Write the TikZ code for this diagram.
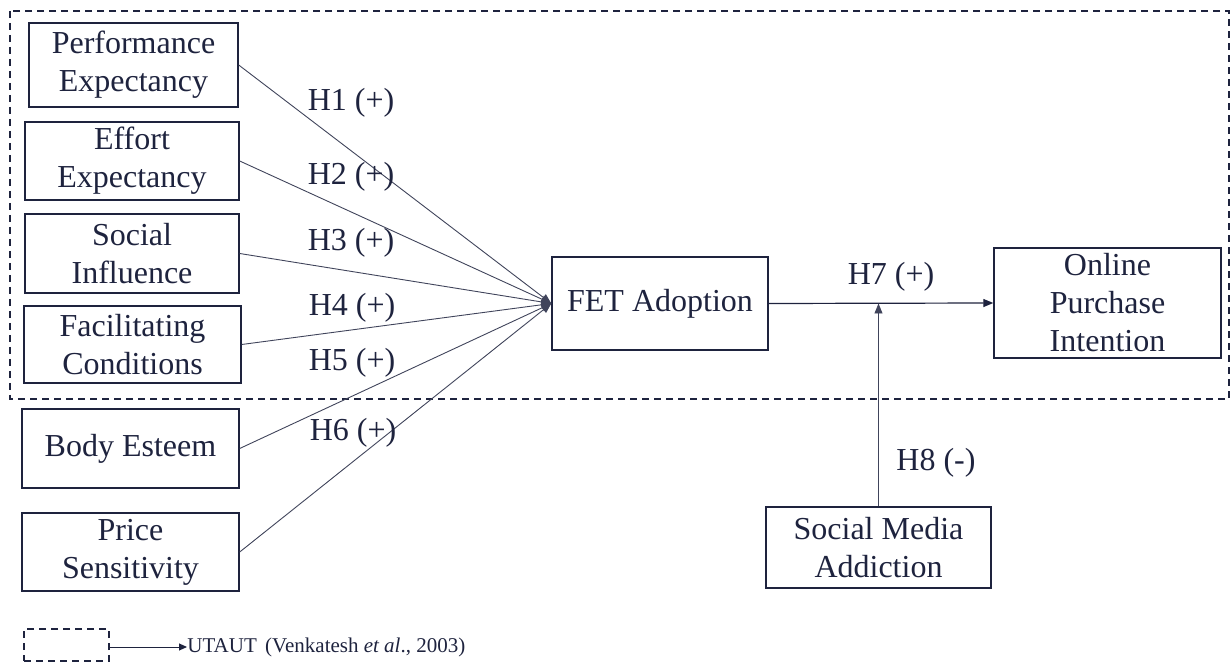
\documentclass[tikz,border=0pt]{standalone}
\usepackage{fontspec}
\setmainfont{Liberation Serif}
\usepackage{tikz}
\usetikzlibrary{arrows.meta,calc}

\definecolor{navy}{RGB}{30,35,62}
\tikzset{
	construct/.style={draw=navy,line width=0.7pt,text=navy,align=center,
		inner sep=0pt,font=\fontsize{16}{19}\selectfont},
	hyp/.style={text=navy,font=\fontsize{16}{19}\selectfont},
	link/.style={draw=navy!85,line width=0.45pt,
		-{Triangle[length=5pt,width=4pt]}},
	utaut/.style={draw=navy,line width=0.6pt,dash pattern=on 3.5pt off 2.5pt}
}

\begin{document}
\begin{tikzpicture}[x=0.5pt,y=-0.5pt]
		\useasboundingbox (0,0) rectangle (1231,662);
		
		% UTAUT frame
		\draw[utaut] (10,11) rectangle (1229,399);
		
		\node[construct,minimum width=104.5pt,minimum height=42pt] (pe) at (133.5,65) {Performance\\Expectancy};
		\node[construct,minimum width=107pt,minimum height=39pt] (ee) at (132,161) {Effort\\Expectancy};
		\node[construct,minimum width=107pt,minimum height=39.5pt] (si) at (132,253.5) {Social\\Influence};
		\node[construct,minimum width=108.5pt,minimum height=38.5pt] (fc) at (132.5,344.5) {Facilitating\\Conditions};
		\node[construct,minimum width=108.5pt,minimum height=39.5pt] (be) at (130.5,448.5) {Body Esteem};
		\node[construct,minimum width=108.5pt,minimum height=39pt] (ps) at (130.5,552) {Price\\Sensitivity};
		
		\node[construct,minimum width=108pt,minimum height=46.5pt] (fet) at (660,303.5) {FET Adoption};
		\node[construct,minimum width=113.5pt,minimum height=55pt] (opi) at (1107.5,303) {Online\\Purchase\\Intention};
		\node[construct,minimum width=112.5pt,minimum height=40.5pt] (sma) at (878.5,547.5) {Social Media\\Addiction};
		
		\draw[link] (pe.east) -- (fet.west);
		\draw[link] (ee.east) -- (fet.west);
		\draw[link] (si.east) -- (fet.west);
		\draw[link] (fc.east) -- (fet.west);
		\draw[link] (be.east) -- (fet.west);
		\draw[link] (ps.east) -- (fet.west);
		
		\draw[link,draw=navy,line width=0.6pt] (fet.east) -- (opi.west);
		\draw[link] (sma.north) -- (sma.north |- fet.east);
		
		\node[hyp] (h1) at (351,103) {H1 (+)};
		\node[hyp] (h2) at (351,177) {H2 (+)};
		\node[hyp] (h3) at (351,243) {H3 (+)};
		\node[hyp] (h4) at (352,308) {H4 (+)};
		\node[hyp] (h5) at (352,363) {H5 (+)};
		\node[hyp] (h6) at (353,433) {H6 (+)};
		\node[hyp] (h7) at (891,277) {H7 (+)};
		\node[hyp] (h8) at (936,463) {H8 (-)};
		
		% legend
		\node[utaut,minimum width=42.5pt,minimum height=16pt,inner sep=0pt] (legbox) at (66.5,645) {};
		\node[text=navy,anchor=west,inner sep=0pt,font=\fontsize{10.5}{12}\selectfont] (legtxt) at (187,647)
			{UTAUT\hspace{0.4em}(Venkatesh \textit{et al}., 2003)};
		\draw[link,draw=navy,line width=0.5pt,-{Triangle[length=4pt,width=3.5pt]}] (legbox.east |- legtxt.west) -- (legtxt.west);
	\end{tikzpicture}
\end{document}
